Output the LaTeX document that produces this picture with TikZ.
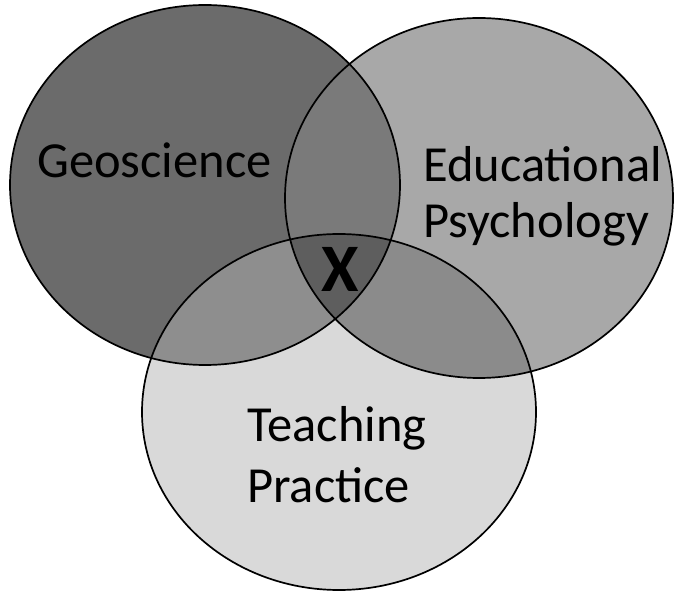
\documentclass[tikz,border=0pt]{standalone}
\usepackage{fontspec}
\setmainfont{Carlito}
\begin{document}
\begin{tikzpicture}[x=1pt,y=-1pt,
  lbl/.style={anchor=base west,inner sep=0pt,font=\fontsize{50.5}{60}\selectfont,text=black},
  outline/.style={draw=black,line width=1.7pt}]
\definecolor{cgeo}{HTML}{6B6B6B}
\definecolor{ced}{HTML}{A8A8A8}
\definecolor{cteach}{HTML}{D9D9D9}
\definecolor{cgeoed}{HTML}{7A7A7A}
\definecolor{cgeoteach}{HTML}{8E8E8E}
\definecolor{cedteach}{HTML}{8B8B8B}
\definecolor{call}{HTML}{5E5E5E}
\useasboundingbox[fill=white] (0,0) rectangle (675,593);
\def\geo{(205,185) ellipse [x radius=195pt, y radius=180pt]}
\def\edu{(479,198) ellipse [x radius=194pt, y radius=180pt]}
\def\tea{(339,412) ellipse [x radius=197pt, y radius=178pt]}
% base fills
\fill[cgeo] \geo;
\fill[ced] \edu;
\fill[cteach] \tea;
% pairwise overlaps
\begin{scope}\clip \geo; \fill[cgeoed] \edu; \end{scope}
\begin{scope}\clip \geo; \fill[cgeoteach] \tea; \end{scope}
\begin{scope}\clip \edu; \fill[cedteach] \tea; \end{scope}
\begin{scope}\clip \geo; \clip \edu; \fill[call] \tea; \end{scope}
% outlines
\draw[outline] \geo;
\draw[outline] \edu;
\draw[outline] \tea;
% labels
\node[lbl] (g) at (37,178) {Geoscience};
\node[lbl] (e1) at (423,182) {Educational};
\node[lbl] (e2) at (423,238) {Psychology};
\node[lbl] (t1) at (247,442) {Teaching};
\node[lbl] (t2) at (247,502) {Practice};
\node[anchor=center,inner sep=0pt,font=\fontsize{68}{76}\selectfont\bfseries] (x) at (340,269) {X};
\end{tikzpicture}
\end{document}
